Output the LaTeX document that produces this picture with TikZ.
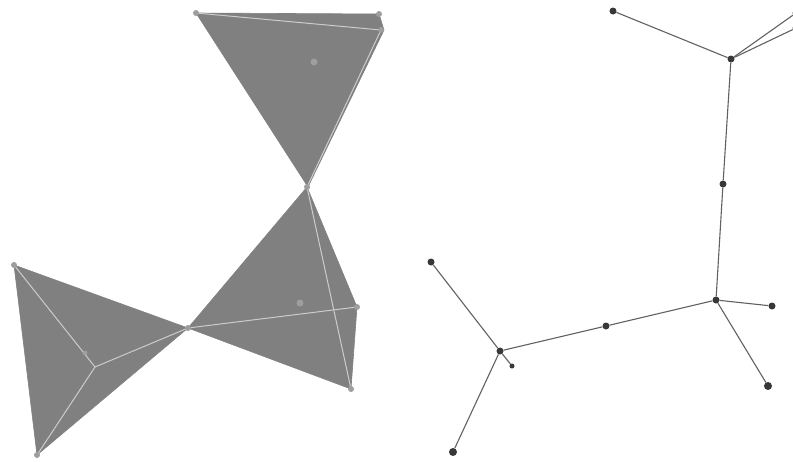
\documentclass[tikz,border=0pt]{standalone}
\usepackage{tikz}
\usetikzlibrary{positioning}

\begin{document}
\begin{tikzpicture}[x=1pt,y=-1pt,
      face/.style={fill=black!50,draw=black!50,line width=0.6pt,line join=round},
      rib/.style={draw=black!20,line width=1pt},
      corner/.style={circle,fill=black!38,inner sep=0pt,minimum size=6pt},
      mark node/.style={circle,fill=black!38,inner sep=0pt,minimum size=7pt},
      link/.style={draw=black!62,line width=1.1pt},
      main node/.style={circle,fill=black!78,inner sep=0pt,minimum size=7pt},
      small node/.style={circle,fill=black!78,inner sep=0pt,minimum size=5pt}]
      \useasboundingbox (0,0) rectangle (793,461);

      % left part: corners
      \coordinate (ta) at (196,13);
      \coordinate (tb) at (379,14);
      \coordinate (tc) at (381,30);
      \coordinate (w) at (307,187);
      \coordinate (ra) at (357,307);
      \coordinate (rb) at (351,389);
      \coordinate (x) at (188,328);
      \coordinate (la) at (14,265);
      \coordinate (lb) at (37,455);
      \coordinate (lc) at (95,367);

      % faces
      \path[face] (ta) -- (tb) -- ([xshift=3pt]tc) -- ([xshift=1pt]w) -- cycle;
      \path[face] (w) -- (ra) -- (rb) -- (x) -- cycle;
      \path[face] (la) -- (x) -- (lb) -- cycle;

      % ribs
      \path[rib] (ta) -- (tc) -- (w);
      \path[rib] (w) -- (rb);
      \path[rib] (x) -- (ra);
      \path[rib] (la) -- (lc) -- (x);
      \path[rib] (lc) -- (lb);

      \foreach \c in {ta,tb,tc,w,ra,rb,x,la,lb}
        \node[corner] at (\c) {};
      \node[mark node] (p1) at (314,62) {};
      \node[mark node] (p2) at (300,303) {};
      \node[corner,minimum size=5pt] (p3) at (85,353) {};

      % right part: tree
      \node[main node] (a) at (613,11) {};
      \node[main node] (h1) at (731,59) {};
      \node[main node] (e1) at (796,13) {};
      \node[main node] (e2) at (796,28) {};
      \node[main node] (b) at (723,184) {};
      \node[main node] (h2) at (716,300) {};
      \node[main node] (c) at (772,306) {};
      \node[main node,minimum size=8pt] (d) at (768,386) {};
      \node[main node] (m) at (606,326) {};
      \node[main node] (h3) at (500,351) {};
      \node[main node] (f) at (431,262) {};
      \node[small node] (g) at (512,366) {};
      \node[main node,minimum size=8pt] (k) at (453,452) {};

      \path[link]
        (a) edge (h1)
        (h1) edge (e1)
        (h1) edge (e2)
        (h1) edge (b)
        (b) edge (h2)
        (h2) edge (c)
        (h2) edge (d)
        (h2) edge (m)
        (m) edge (h3)
        (h3) edge (f)
        (h3) edge (g)
        (h3) edge (k);
\end{tikzpicture}
\end{document}
